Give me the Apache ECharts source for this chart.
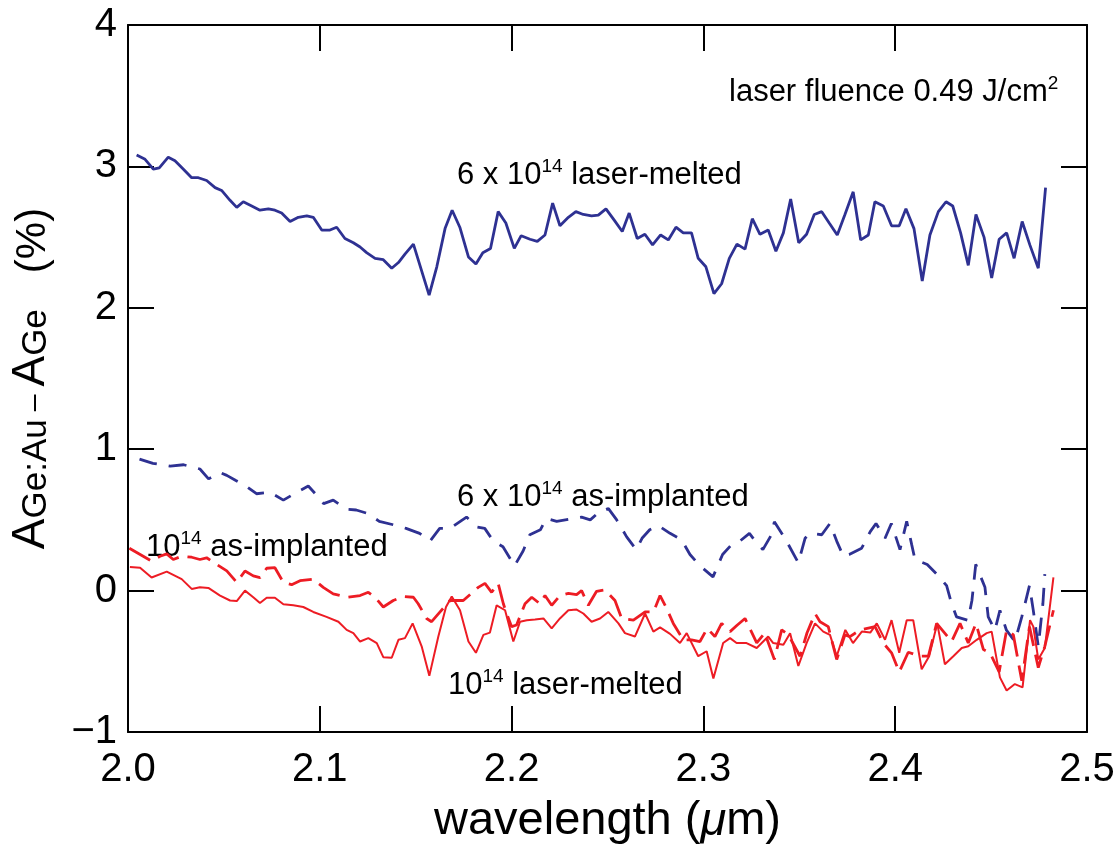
<!DOCTYPE html>
<html>
<head>
<meta charset="utf-8">
<script src="https://cdn.jsdelivr.net/npm/echarts@6/dist/echarts.min.js"></script>
<style>
  html, body { margin: 0; padding: 0; background: #fff; }
  #chart { width: 1119px; height: 850px; }
</style>
</head>
<body>
<div id="chart"></div>
<script type="text/javascript">
// 6 x 10^14 laser-melted (solid blue)
var melt6X = [2.0045,2.0089,2.0132,2.0163,2.0210,2.0245,2.0289,2.0332,2.0367,2.0410,2.0454,2.0488,2.0532,2.0567,2.0601,2.0645,2.0688,2.0732,2.0766,2.0801,2.0845,2.0888,2.0932,2.0966,2.1010,2.1053,2.1088,2.1131,2.1175,2.1210,2.1244,2.1288,2.1331,2.1375,2.1410,2.1444,2.1488,2.1570,2.1610,2.1653,2.1690,2.1730,2.1775,2.1814,2.1850,2.1890,2.1930,2.1970,2.2014,2.2050,2.2096,2.2134,2.2174,2.2214,2.2252,2.2296,2.2335,2.2374,2.2417,2.2452,2.2492,2.2535,2.2577,2.2613,2.2655,2.2695,2.2735,2.2777,2.2817,2.2857,2.2895,2.2938,2.2973,2.3013,2.3055,2.3095,2.3135,2.3175,2.3217,2.3255,2.3295,2.3338,2.3378,2.3417,2.3455,2.3497,2.3538,2.3578,2.3617,2.3656,2.3698,2.3738,2.3781,2.3820,2.3860,2.3894,2.3938,2.3981,2.4021,2.4056,2.4098,2.4141,2.4181,2.4225,2.4265,2.4300,2.4341,2.4381,2.4421,2.4463,2.4503,2.4542,2.4581,2.4620,2.4662,2.4702,2.4746,2.4784];
var melt6Y = [3.08,3.05,2.98,2.99,3.065,3.04,2.98,2.92,2.92,2.90,2.85,2.83,2.76,2.71,2.75,2.72,2.69,2.70,2.69,2.67,2.61,2.64,2.65,2.64,2.55,2.55,2.57,2.49,2.46,2.43,2.39,2.35,2.34,2.28,2.32,2.38,2.45,2.09,2.29,2.56,2.69,2.57,2.36,2.31,2.39,2.42,2.68,2.60,2.42,2.51,2.485,2.47,2.515,2.74,2.58,2.64,2.68,2.66,2.65,2.655,2.70,2.62,2.54,2.67,2.49,2.52,2.445,2.515,2.48,2.57,2.53,2.53,2.35,2.29,2.10,2.17,2.35,2.45,2.415,2.63,2.52,2.55,2.40,2.53,2.77,2.46,2.52,2.66,2.68,2.60,2.515,2.66,2.82,2.48,2.515,2.75,2.72,2.58,2.58,2.70,2.56,2.19,2.515,2.68,2.75,2.72,2.53,2.30,2.66,2.50,2.21,2.485,2.53,2.35,2.61,2.445,2.28,2.85];

// 6 x 10^14 as-implanted (dashed blue)
var impl6X = [2.0060,2.0130,2.0220,2.0290,2.0375,2.0420,2.0480,2.0515,2.0560,2.0615,2.0670,2.0740,2.0810,2.0880,2.0940,2.1000,2.1020,2.1070,2.1140,2.1190,2.1250,2.1310,2.1400,2.1450,2.1520,2.1575,2.1625,2.1680,2.1765,2.1820,2.1860,2.1905,2.1955,2.2015,2.2060,2.2095,2.2150,2.2180,2.2235,2.2320,2.2365,2.2410,2.2460,2.2505,2.2548,2.2600,2.2650,2.2680,2.2720,2.2765,2.2826,2.2886,2.2930,2.2982,2.3050,2.3100,2.3147,2.3190,2.3240,2.3270,2.3310,2.3355,2.3370,2.3425,2.3495,2.3530,2.3555,2.3617,2.3660,2.3695,2.3730,2.3760,2.3825,2.3870,2.3900,2.3947,2.3980,2.4025,2.4060,2.4086,2.4103,2.4167,2.4225,2.4268,2.4294,2.4320,2.4380,2.4400,2.4420,2.4468,2.4485,2.4520,2.4546,2.4580,2.4624,2.4660,2.4700,2.4720,2.4746,2.4770,2.4780];
var impl6Y = [0.93,0.90,0.88,0.89,0.86,0.79,0.835,0.815,0.78,0.74,0.685,0.695,0.64,0.695,0.74,0.65,0.615,0.64,0.575,0.57,0.545,0.49,0.46,0.44,0.405,0.35,0.44,0.44,0.52,0.45,0.44,0.35,0.31,0.175,0.28,0.395,0.43,0.51,0.49,0.51,0.52,0.50,0.56,0.58,0.50,0.38,0.29,0.37,0.43,0.46,0.405,0.36,0.255,0.175,0.097,0.255,0.325,0.35,0.405,0.35,0.29,0.395,0.487,0.37,0.197,0.37,0.405,0.395,0.475,0.35,0.243,0.255,0.30,0.417,0.475,0.37,0.475,0.29,0.49,0.325,0.22,0.185,0.104,0.035,-0.093,-0.186,-0.21,-0.07,0.186,0.023,-0.186,-0.28,-0.14,-0.28,-0.36,-0.186,0.035,-0.14,-0.394,-0.093,0.116];

// 10^14 as-implanted (dashed red)
var impl1X = [2.0007,2.0123,2.0167,2.0202,2.0236,2.0280,2.0332,2.0375,2.0410,2.0462,2.0515,2.0567,2.0610,2.0653,2.0688,2.0723,2.0766,2.0810,2.0853,2.0897,2.0966,2.1018,2.1070,2.1140,2.1210,2.1253,2.1290,2.1331,2.1383,2.1435,2.1488,2.1513,2.1557,2.1583,2.1627,2.1679,2.1748,2.1826,2.1861,2.1896,2.1930,2.1957,2.1974,2.2000,2.2026,2.2070,2.2105,2.2148,2.2174,2.2209,2.2252,2.2296,2.2339,2.2365,2.2400,2.2443,2.2487,2.2539,2.2574,2.2635,2.2696,2.2740,2.2774,2.2809,2.2843,2.2895,2.2938,2.2982,2.3020,2.3060,2.3095,2.3139,2.3177,2.3217,2.3278,2.3320,2.3370,2.3408,2.3443,2.3504,2.3540,2.3582,2.3608,2.3651,2.3695,2.3738,2.3764,2.3817,2.3895,2.3938,2.3981,2.4021,2.4068,2.4129,2.4173,2.4216,2.4294,2.4338,2.4381,2.4421,2.4460,2.4494,2.4542,2.4581,2.4616,2.4660,2.4700,2.4746,2.4780,2.4825];
var impl1Y = [0.30,0.209,0.243,0.26,0.22,0.243,0.236,0.22,0.232,0.186,0.139,0.058,0.139,0.104,0.092,0.158,0.162,0.058,0.042,0.07,0.081,0.023,-0.023,-0.047,-0.035,-0.012,-0.05,-0.116,-0.07,-0.042,-0.047,-0.093,-0.197,-0.22,-0.151,-0.07,-0.07,0.023,0.051,-0.012,0.051,-0.093,-0.162,-0.255,-0.243,-0.093,-0.047,-0.093,-0.035,-0.104,-0.035,-0.019,-0.028,0.0,-0.104,-0.005,0.005,-0.07,-0.197,-0.209,-0.151,-0.151,-0.035,-0.128,-0.232,-0.348,-0.348,-0.36,-0.267,-0.325,-0.232,-0.29,-0.243,-0.197,-0.37,-0.30,-0.487,-0.278,-0.313,-0.464,-0.30,-0.162,-0.22,-0.255,-0.487,-0.313,-0.325,-0.278,-0.255,-0.371,-0.44,-0.575,-0.436,-0.464,-0.464,-0.232,-0.36,-0.232,-0.371,-0.232,-0.417,-0.44,-0.575,-0.278,-0.313,-0.638,-0.255,-0.545,-0.394,-0.139];

// 10^14 laser-melted (solid red)
var melt1X = [2.0010,2.0063,2.0123,2.0202,2.0280,2.0332,2.0375,2.0419,2.0480,2.0532,2.0567,2.0610,2.0653,2.0688,2.0723,2.0766,2.0810,2.0862,2.0914,2.0966,2.1035,2.1097,2.1140,2.1175,2.1210,2.1253,2.1297,2.1331,2.1375,2.1410,2.1444,2.1484,2.1531,2.1571,2.1618,2.1658,2.1688,2.1731,2.1775,2.1814,2.1853,2.1887,2.1922,2.1966,2.2009,2.2044,2.2079,2.2122,2.2166,2.2209,2.2252,2.2296,2.2339,2.2374,2.2417,2.2461,2.2504,2.2557,2.2591,2.2643,2.2696,2.2739,2.2774,2.2826,2.2878,2.2913,2.2973,2.3017,2.3052,2.3103,2.3139,2.3173,2.3225,2.3278,2.3304,2.3338,2.3364,2.3417,2.3452,2.3495,2.3538,2.3582,2.3625,2.3660,2.3695,2.3740,2.3780,2.3826,2.3870,2.3904,2.3947,2.3981,2.4021,2.4060,2.4094,2.4138,2.4177,2.4219,2.4259,2.4303,2.4347,2.4381,2.4425,2.4477,2.4503,2.4546,2.4581,2.4624,2.4664,2.4703,2.4720,2.4746,2.4780,2.4825];
var melt1Y = [0.167,0.162,0.093,0.134,0.081,0.012,0.023,0.019,-0.035,-0.07,-0.074,0.0,-0.047,-0.088,-0.051,-0.051,-0.097,-0.104,-0.116,-0.151,-0.186,-0.22,-0.278,-0.301,-0.36,-0.336,-0.371,-0.471,-0.475,-0.348,-0.336,-0.232,-0.394,-0.603,-0.325,-0.116,-0.042,-0.139,-0.36,-0.44,-0.313,-0.297,-0.104,-0.139,-0.36,-0.22,-0.209,-0.204,-0.197,-0.267,-0.197,-0.139,-0.134,-0.162,-0.22,-0.197,-0.151,-0.232,-0.301,-0.325,-0.162,-0.29,-0.26,-0.306,-0.371,-0.301,-0.464,-0.429,-0.621,-0.371,-0.336,-0.371,-0.371,-0.406,-0.371,-0.325,-0.371,-0.383,-0.301,-0.533,-0.371,-0.232,-0.29,-0.313,-0.464,-0.278,-0.371,-0.29,-0.297,-0.232,-0.348,-0.209,-0.44,-0.209,-0.209,-0.556,-0.464,-0.232,-0.521,-0.464,-0.406,-0.394,-0.348,-0.301,-0.29,-0.614,-0.707,-0.661,-0.684,-0.209,-0.255,-0.487,-0.406,0.093];

var xTicks = [2.0, 2.1, 2.2, 2.3, 2.4, 2.5];
var yTicks = [-1, 0, 1, 2, 3, 4];

var BLUE = '#2e3192';
var RED = '#ed1c24';
var FONT = 'Liberation Sans';

function pairs(xs, ys) {
  var out = [];
  for (var i = 0; i < xs.length; i++) out.push([xs[i], ys[i]]);
  return out;
}

var frameAxis = {
  axisLine: { show: true, onZero: false, lineStyle: { color: '#000', width: 2 } },
  axisTick: { show: true, inside: true, length: 26, lineStyle: { color: '#000', width: 2 } },
  splitLine: { show: false }
};

// annotation text with a small raised "14" / "2"
function note(x, y, text) {
  return {
    type: 'text', x: x, y: y,
    style: {
      text: text,
      verticalAlign: 'middle',
      rich: {
        m: { fontFamily: FONT, fontSize: 31, lineHeight: 35, fill: '#000' },
        s: { fontFamily: FONT, fontSize: 19, fill: '#000', verticalAlign: 'top' }
      }
    }
  };
}

var myChart = echarts.init(document.getElementById('chart'));
var option = {
  animation: false,
  backgroundColor: '#fff',
  grid: { left: 128, right: 32, top: 25, bottom: 106, containLabel: false },
  xAxis: [
    Object.assign({
      type: 'value', position: 'bottom',
      min: xTicks[0], max: xTicks[xTicks.length - 1], interval: 0.1,
      axisLabel: {
        color: '#000', fontFamily: FONT, fontSize: 40, margin: 18,
        formatter: function (v) { return v.toFixed(1); }
      },
      name: '{n|wavelength (}{i|\u03bc}{n|m)}',
      nameLocation: 'middle', nameGap: 66,
      nameTextStyle: {
        rich: {
          n: { fontFamily: FONT, fontSize: 47, color: '#000' },
          i: { fontFamily: FONT, fontSize: 47, fontStyle: 'italic', color: '#000' }
        }
      }
    }, frameAxis),
    Object.assign({
      type: 'value', position: 'top',
      min: xTicks[0], max: xTicks[xTicks.length - 1], interval: 0.1,
      axisLabel: { show: false }
    }, frameAxis)
  ],
  yAxis: [
    Object.assign({
      type: 'value', position: 'left',
      min: yTicks[0], max: yTicks[yTicks.length - 1], interval: 1,
      axisLabel: {
        color: '#000', fontFamily: FONT, fontSize: 40, margin: 11,
        formatter: function (v) { return v < 0 ? '\u2212' + Math.abs(v) : String(v); }
      },
      name: '{a|A}{s|Ge:Au}{m|\u2013}{a|A}{s|Ge}{p|(%)}',
      nameLocation: 'middle', nameGap: 74, nameRotate: 90,
      nameTextStyle: {
        rich: {
          a: { fontFamily: FONT, fontSize: 46, color: '#000', verticalAlign: 'bottom' },
          s: { fontFamily: FONT, fontSize: 35, color: '#000', verticalAlign: 'bottom' },
          m: { fontFamily: FONT, fontSize: 30, color: '#000', verticalAlign: 'bottom', padding: [0, 8, 4, 8] },
          p: { fontFamily: FONT, fontSize: 42, color: '#000', verticalAlign: 'bottom', padding: [0, 0, 0, 36] }
        }
      }
    }, frameAxis),
    Object.assign({
      type: 'value', position: 'right',
      min: yTicks[0], max: yTicks[yTicks.length - 1], interval: 1,
      axisLabel: { show: false }
    }, frameAxis)
  ],
  graphic: [
    note(729, 92, '{m|laser fluence 0.49 J/cm}{s|2}'),
    note(457, 175, '{m|6 x 10}{s|14}{m| laser-melted}'),
    note(457, 497, '{m|6 x 10}{s|14}{m| as-implanted}'),
    note(146, 547, '{m|10}{s|14}{m| as-implanted}'),
    note(448, 685, '{m|10}{s|14}{m| laser-melted}')
  ],
  series: [
    {
      name: '6 x 10^14 laser-melted', type: 'line', symbol: 'none',
      data: pairs(melt6X, melt6Y),
      lineStyle: { color: BLUE, width: 2.8 }
    },
    {
      name: '6 x 10^14 as-implanted', type: 'line', symbol: 'none',
      data: pairs(impl6X, impl6Y),
      lineStyle: { color: BLUE, width: 2.8, type: [18, 12] }
    },
    {
      name: '10^14 as-implanted', type: 'line', symbol: 'none',
      data: pairs(impl1X, impl1Y),
      lineStyle: { color: RED, width: 2.8, type: [24, 9] }
    },
    {
      name: '10^14 laser-melted', type: 'line', symbol: 'none',
      data: pairs(melt1X, melt1Y),
      lineStyle: { color: RED, width: 2 }
    }
  ]
};
myChart.setOption(option);
</script>
</body>
</html>
